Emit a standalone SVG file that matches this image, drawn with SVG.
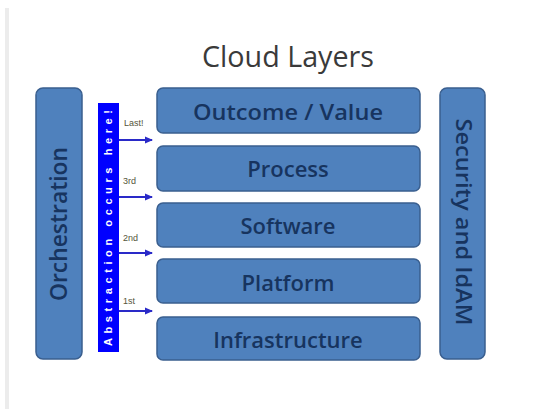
<svg xmlns="http://www.w3.org/2000/svg" width="555" height="409" viewBox="0 0 555 409">
<style>
.box{fill:#4f81bd;stroke:#3a5f8f;stroke-width:1.5}
.lbl{font-family:"Open Sans","Noto Sans",sans-serif;font-weight:600;fill:#17345f;text-anchor:middle}
.ord{font-family:"Liberation Sans",sans-serif;font-size:9px;fill:#55553a}
.arr{stroke:#2a2ac8;stroke-width:2;fill:none;marker-end:url(#ah)}
</style>
<defs>
<marker id="ah" markerWidth="8" markerHeight="8" refX="7" refY="4" orient="auto" markerUnits="userSpaceOnUse">
<path d="M0,0.5 L8,4 L0,7.5 Z" fill="#2a2ac8"/>
</marker>
</defs>
<rect width="555" height="409" fill="#ffffff"/>
<rect x="5" y="8" width="4" height="401" fill="#ececec"/>
<text x="288" y="67" font-family="Open Sans, Noto Sans, sans-serif" font-size="29" fill="#3a3a3a" text-anchor="middle" textLength="172" lengthAdjust="spacingAndGlyphs">Cloud Layers</text>
<g id="orchestration">
<rect class="box" x="36" y="88" width="46" height="271" rx="7"/>
<text class="lbl" font-size="24" transform="translate(67,224) rotate(-90)" textLength="154" lengthAdjust="spacingAndGlyphs">Orchestration</text>
</g>
<g id="abstraction">
<rect x="98" y="103" width="21" height="249" fill="#0000ff"/>
<text x="0" y="0" font-family="Liberation Sans, sans-serif" font-size="11" font-weight="bold" fill="#ffffff" text-anchor="middle" transform="translate(112,228) rotate(-90)" textLength="236" lengthAdjust="spacing">Abstraction occurs here!</text>
</g>
<g id="outcome">
<rect class="box" x="157" y="88" width="263" height="45" rx="6"/>
<text class="lbl" x="288" y="120" font-size="22" textLength="190" lengthAdjust="spacingAndGlyphs">Outcome / Value</text>
</g>
<g id="process">
<rect class="box" x="157" y="146" width="263" height="45" rx="6"/>
<text class="lbl" x="288" y="177" font-size="22">Process</text>
</g>
<g id="software">
<rect class="box" x="157" y="203" width="263" height="44" rx="6"/>
<text class="lbl" x="288" y="234" font-size="22">Software</text>
</g>
<g id="platform">
<rect class="box" x="157" y="259" width="263" height="44" rx="6"/>
<text class="lbl" x="288" y="291" font-size="22">Platform</text>
</g>
<g id="infrastructure">
<rect class="box" x="157" y="317" width="263" height="43" rx="6"/>
<text class="lbl" x="288" y="348" font-size="22">Infrastructure</text>
</g>
<g id="security">
<rect class="box" x="440" y="88" width="45" height="271" rx="7"/>
<text class="lbl" font-size="22" transform="translate(456,222) rotate(90)" textLength="207" lengthAdjust="spacingAndGlyphs">Security and IdAM</text>
</g>
<g id="connectors">
<line class="arr" x1="119" y1="140" x2="152" y2="140"/>
<line class="arr" x1="119" y1="197" x2="152" y2="197"/>
<line class="arr" x1="119" y1="253" x2="152" y2="253"/>
<line class="arr" x1="119" y1="311" x2="152" y2="311"/>
<text class="ord" x="124" y="126">Last!</text>
<text class="ord" x="123" y="184">3rd</text>
<text class="ord" x="123" y="241">2nd</text>
<text class="ord" x="123" y="304">1st</text>
</g>
</svg>
